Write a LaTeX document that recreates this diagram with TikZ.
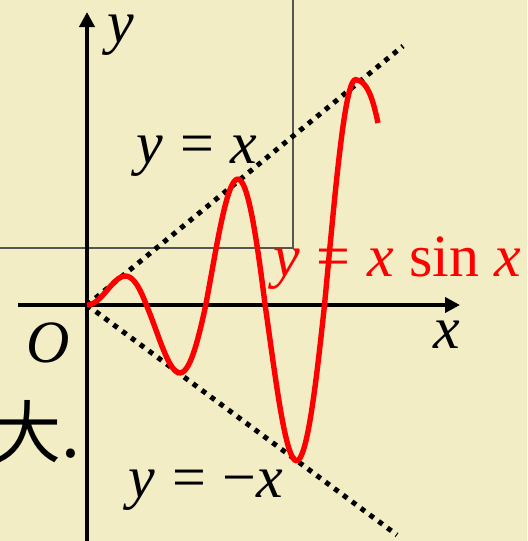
\documentclass[tikz,border=0pt]{standalone}
\usepackage{fontspec}
\setmainfont{Liberation Serif}
\newfontfamily\cjk{Noto Sans CJK SC}
\usetikzlibrary{arrows.meta}
\definecolor{paper}{RGB}{242,237,196}
\definecolor{frameline}{RGB}{85,85,85}
\newcommand{\eqs}[1]{\hspace{.28em}#1\hspace{.28em}}

\begin{document}
\begin{tikzpicture}[
    x=0.5pt, y=-0.5pt,
    every node/.style={inner sep=0pt, font=\fontsize{30}{31}\selectfont},
    axis/.style={-{Triangle[length=7.5pt, width=7.5pt]}, line width=2pt},
    guide/.style={line width=2.5pt, dash pattern=on 2.5pt off 3pt},
    curve/.style={red, line width=2.7pt},
  ]
  \fill[paper] (0,0) rectangle (527,541);
  \useasboundingbox (0,0) rectangle (527,541);
  \draw[frameline, line width=0.6pt] (0,248) -- (293,248) -- (293,0);

  \coordinate (O)  at (87,305);
  \coordinate (xs) at (18,305);
  \coordinate (xe) at (460,305);
  \coordinate (ys) at (87,541);
  \coordinate (ye) at (87,12);
  \coordinate (up) at (403,46);
  \coordinate (dn) at (397,535);
  \coordinate (fxend) at (378,123);

  \draw[axis] (xs) -- (xe);
  \draw[axis] (ys) -- (ye);
  \draw[guide] (O) -- (up);
  \draw[guide] (O) -- (dn);
  \draw[curve] plot[domain=0:14.207, samples=200, variable=\t]
    ({87+18.9*\t}, {305-15*\t*sin(\t r)-0.9*\t*abs(sin(\t r))})
    .. controls (367,80) and (373,99) .. (fxend);

  \node[anchor=base] (ylab) at (121,42)  {\textit{y}};
  \node[anchor=base] (xlab) at (447,348) {\textit{x}};
  \node[anchor=base] (olab) at (48,362)  {\textit{O}};
  \node[anchor=base] (upl)  at (197,163) {\textit{y}\eqs{=}\textit{x}};
  \node[anchor=base] (dnl)  at (206,497) {\textit{y}\eqs{=}−\textit{x}};
  \node[anchor=base, red] (fx) at (397,276) {\textit{y}\eqs{=}\textit{x} sin \textit{x}};
  \node[anchor=base east, font=\fontsize{34}{35}\selectfont] (da) at (81,457) {\cjk 大.};
\end{tikzpicture}
\end{document}
